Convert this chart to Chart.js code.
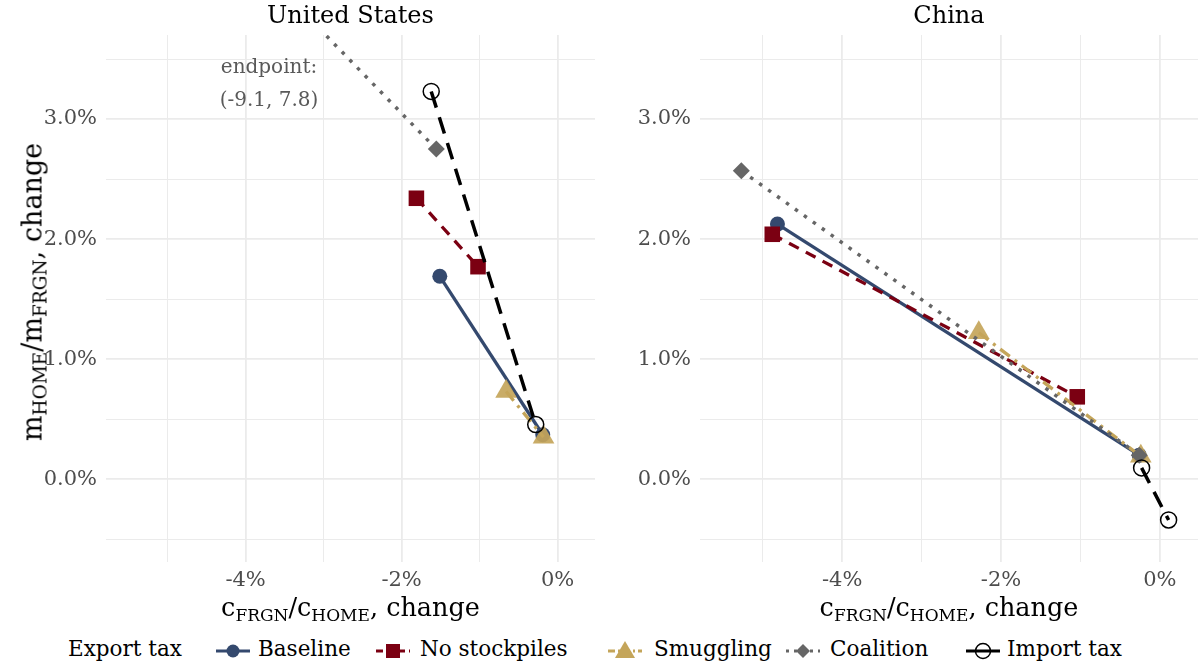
<!DOCTYPE html>
<html>
<head>
<meta charset="utf-8">
<script src="https://cdn.jsdelivr.net/npm/chart.js@4"></script>
<style>
  body { margin: 0; background: #fff; font-family: 'DejaVu Serif', serif; }
  #wrap { position: relative; width: 1198px; height: 665px; overflow: hidden; }
  canvas { position: absolute; top: 0; }
  .ptitle { position: absolute; top: 1px; font-size: 24px; text-align: center; color: #000; }
  .xtitle { position: absolute; top: 592px; font-size: 25.5px; text-align: center; color: #000; white-space: nowrap; }
  .sub { font-size: 17px; position: relative; top: 5px; }
  #ytitle { position: absolute; left: 32px; top: 292px; font-size: 27px; white-space: nowrap;
            transform: translate(-50%, -50%) rotate(-90deg); }
  #ytitle .sub { font-size: 18.5px; }
  .leg { position: absolute; top: 636px; font-size: 21.5px; color: #000; white-space: nowrap; }
  .sym { position: absolute; top: 641px; }
</style>
</head>
<body>
<div id="wrap">
  <canvas id="us" width="600" height="600" style="left:0"></canvas>
  <canvas id="cn" width="598" height="600" style="left:600px"></canvas>
  <div class="ptitle" style="left:106px;width:489px">United States</div>
  <div class="ptitle" style="left:700px;width:498px">China</div>
  <div class="xtitle" style="left:106px;width:489px">c<span class="sub">FRGN</span>/c<span class="sub">HOME</span>, change</div>
  <div class="xtitle" style="left:700px;width:498px">c<span class="sub">FRGN</span>/c<span class="sub">HOME</span>, change</div>
  <div id="ytitle">m<span class="sub">HOME</span>/m<span class="sub">FRGN</span>, change</div>
  <div id="legend"></div>
</div>
<script>
// series names / colours
const seriesNames = ['Baseline', 'No stockpiles', 'Smuggling', 'Coalition', 'Import tax'];

// United States panel (x: c ratio change %, y: m ratio change %)
const usBaselineX = [-1.51, -0.19];
const usBaselineY = [1.69, 0.37];
const usStockX = [-1.81, -1.02];
const usStockY = [2.34, 1.77];
const usSmugX = [-0.66, -0.18];
const usSmugY = [0.73, 0.35];
const usCoalX = [-1.555, -9.1];
const usCoalY = [2.75, 7.8];
const usImportX = [-1.62, -0.28];
const usImportY = [3.23, 0.455];

// China panel
const cnBaselineX = [-4.815, -0.26];
const cnBaselineY = [2.125, 0.2];
const cnStockX = [-4.88, -1.04];
const cnStockY = [2.04, 0.686];
const cnSmugX = [-2.28, -0.24];
const cnSmugY = [1.22, 0.19];
const cnCoalX = [-5.27, -0.26];
const cnCoalY = [2.57, 0.2];
const cnImportX = [-0.23, 0.11];
const cnImportY = [0.094, -0.34];

const endpointLabel = ['endpoint:', '(-9.1, 7.8)'];

const FONT = "'DejaVu Serif', serif";
const col = { base: '#34496e', stock: '#7b0012', smug: '#c4a55a', coal: '#666666', imp: '#000000' };

function pts(xs, ys) {
  return xs.map((x, i) => ({ x: x, y: ys[i] }));
}

function makeSets(bx, by, sx, sy, gx, gy, cx, cy, ix, iy, coalRadius) {
  return [
    { label: seriesNames[0], data: pts(bx, by), borderColor: col.base, backgroundColor: col.base,
      borderWidth: 3.3, pointStyle: 'circle', pointRadius: 7.5, pointBorderWidth: 0, order: 5 },
    { label: seriesNames[1], data: pts(sx, sy), borderColor: col.stock, backgroundColor: col.stock,
      borderWidth: 3.3, borderDash: [11, 8], pointStyle: 'rect', pointRadius: 11, pointBorderWidth: 0, order: 4 },
    { label: seriesNames[2], data: pts(gx, gy), borderColor: col.smug, backgroundColor: 'rgba(196,165,90,0.92)',
      borderWidth: 3.3, borderDash: [12, 6, 3, 6], pointStyle: 'triangle', pointRadius: 12.5, pointBorderWidth: 0, order: 3 },
    { label: seriesNames[3], data: pts(cx, cy), borderColor: col.coal, backgroundColor: col.coal,
      borderWidth: 3.5, borderDash: [3.5, 7.5], pointStyle: 'rectRot', pointRadius: coalRadius, pointBorderWidth: 0, order: 2 },
    { label: seriesNames[4], data: pts(ix, iy), borderColor: col.imp, backgroundColor: 'rgba(0,0,0,0)',
      borderWidth: 3.5, borderDash: [17, 10], pointStyle: 'circle', pointRadius: 8, pointBorderWidth: 1.5,
      pointBorderColor: col.imp, order: 1 }
  ];
}

function makeOptions(yWidth, padRight) {
  return {
    responsive: false,
    animation: false,
    layout: { autoPadding: false, padding: { top: 35, right: padRight, left: 0, bottom: 0 } },
    plugins: { legend: { display: false }, tooltip: { enabled: false } },
    elements: { line: { tension: 0, borderCapStyle: 'butt' } },
    scales: {
      x: {
        type: 'linear', min: -5.79, max: 0.48,
        border: { display: false },
        grid: { color: '#ebebeb', drawTicks: false,
                lineWidth: c => (c.tick && c.tick.value % 2 === 0) ? 1.8 : 1 },
        ticks: { stepSize: 1, includeBounds: false, autoSkip: false, maxRotation: 0,
                 padding: 6, color: '#4d4d4d', font: { family: FONT, size: 21 },
                 callback: v => (v % 2 === 0) ? v + '%' : '' },
        afterFit: a => { a.height = 38; a.paddingLeft = 0; a.paddingRight = 0; }
      },
      y: {
        type: 'linear', min: -0.69, max: 3.7,
        border: { display: false },
        grid: { color: '#ebebeb', drawTicks: false,
                lineWidth: c => (c.tick && Number.isInteger(c.tick.value)) ? 1.8 : 1 },
        ticks: { stepSize: 0.5, includeBounds: false, autoSkip: false,
                 padding: 9, color: '#4d4d4d', font: { family: FONT, size: 21 },
                 callback: v => Number.isInteger(v) ? v.toFixed(1) + '%' : '' },
        afterFit: a => { a.width = yWidth; a.paddingTop = 0; a.paddingBottom = 0; }
      }
    }
  };
}

// text note for the clipped coalition line
const endpointNote = {
  id: 'endpointNote',
  afterDraw(chart) {
    const c = chart.ctx;
    const xs = chart.scales.x, ys = chart.scales.y;
    c.save();
    c.fillStyle = '#595959';
    c.font = '20px ' + FONT;
    c.textAlign = 'center';
    c.textBaseline = 'middle';
    c.fillText(endpointLabel[0], xs.getPixelForValue(-3.7), ys.getPixelForValue(3.43));
    c.fillText(endpointLabel[1], xs.getPixelForValue(-3.7), ys.getPixelForValue(3.15));
    c.restore();
  }
};

new Chart(document.getElementById('us'), {
  type: 'scatter',
  data: { datasets: makeSets(usBaselineX, usBaselineY, usStockX, usStockY, usSmugX, usSmugY,
                             usCoalX, usCoalY, usImportX, usImportY, [8.5, 0]).map(d => Object.assign(d, { showLine: true })) },
  options: makeOptions(106, 5),
  plugins: [endpointNote]
});

new Chart(document.getElementById('cn'), {
  type: 'scatter',
  data: { datasets: makeSets(cnBaselineX, cnBaselineY, cnStockX, cnStockY, cnSmugX, cnSmugY,
                             cnCoalX, cnCoalY, cnImportX, cnImportY, 8.5).map(d => Object.assign(d, { showLine: true })) },
  options: makeOptions(100, 0),
  plugins: []
});

// legend row
const legend = document.getElementById('legend');
const legItems = [
  { x: 216, tx: 258, line: col.base, dash: '', marker: '<circle cx="17" cy="10" r="6.5" fill="' + col.base + '"/>' },
  { x: 376, tx: 420, line: col.stock, dash: '7 4', marker: '<rect x="10" y="3" width="14" height="14" fill="' + col.stock + '"/>' },
  { x: 608, tx: 654, line: col.smug, dash: '7 3 2 3', marker: '<polygon points="17,0 27,17 7,17" fill="' + col.smug + '"/>' },
  { x: 786, tx: 830, line: col.coal, dash: '3 5', marker: '<polygon points="17,3 24,10 17,17 10,10" fill="' + col.coal + '"/>' },
  { x: 966, tx: 1007, line: col.imp, dash: '', marker: '<circle cx="17" cy="10" r="7.5" fill="none" stroke="#000" stroke-width="1.5"/>' }
];
let html = '<div class="leg" style="left:68px">Export tax</div>';
legItems.forEach((it, i) => {
  html += '<svg class="sym" style="left:' + it.x + 'px" width="34" height="20">' +
    '<line x1="0" y1="10" x2="34" y2="10" stroke="' + it.line + '" stroke-width="3"' +
    (it.dash ? ' stroke-dasharray="' + it.dash + '"' : '') + '/>' + it.marker + '</svg>';
  html += '<div class="leg" style="left:' + it.tx + 'px">' + seriesNames[i] + '</div>';
});
legend.innerHTML = html;
</script>
</body>
</html>
